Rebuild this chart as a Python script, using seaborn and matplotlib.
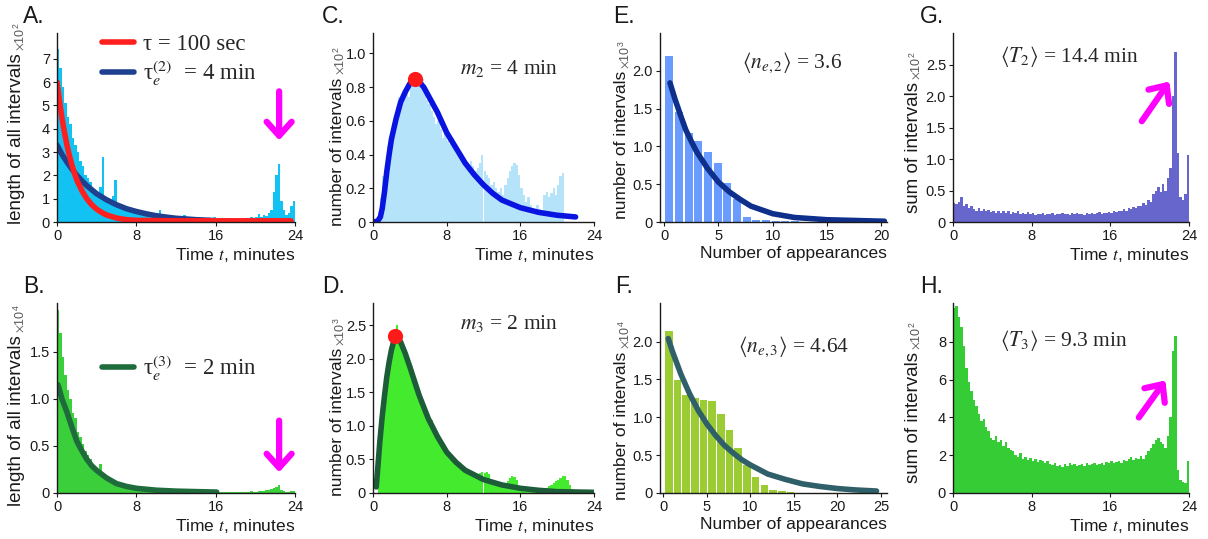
import numpy as np
import pandas as pd
import matplotlib.pyplot as plt
import seaborn as sns

# ---------------- data ----------------
# time histograms use 0.25-minute bins starting at t = 0
bin_w = 0.25

a_hist = [7.4, 6.6, 5.8, 5.1, 4.5, 4.2, 3.6, 3.3,
          3.0, 2.6, 2.4, 2.0, 1.9, 1.7, 1.4, 1.3,
          1.2, 1.5, 2.8, 1.0, 0.9, 0.8, 1.1, 1.8,
          0.7, 0.6, 0.75, 0.55, 0.5, 0.6, 0.45, 0.4,
          0.35, 0.4, 0.3, 0.35, 0.3, 0.25, 0.3, 0.25,
          0.25, 0.5, 0.2, 0.2, 0.25, 0.2, 0.15, 0.2,
          0.15, 0.2, 0.15, 0.3, 0.15, 0.1, 0.15, 0.1,
          0.2, 0.1, 0.1, 0.15, 0.1, 0.15, 0.1, 0.2,
          0.1, 0.1, 0.15, 0.1, 0.1, 0.15, 0.1, 0.1,
          0.1, 0.15, 0.1, 0.1, 0.15, 0.1, 0.2, 0.15,
          0.2, 0.35, 0.2, 0.3, 0.25, 0.4, 0.5, 1.3,
          2.0, 2.5, 0.9, 0.5, 0.3, 0.4, 0.7, 0.9]
a_red_t = [0, 0.25, 0.5, 0.75, 1.0, 1.25, 1.5, 1.75, 2.0, 2.5, 3.0, 3.5, 4.0,
           4.5, 5.0, 6.0, 7.0, 8.0, 10.0, 12.0, 16.0, 23.6]
a_red_y = [6.0, 5.2, 4.45, 3.85, 3.3, 2.85, 2.45, 2.1, 1.8, 1.35, 1.0, 0.74, 0.55,
           0.41, 0.3, 0.17, 0.1, 0.07, 0.06, 0.05, 0.05, 0.05]
a_blue_t = [0, 0.5, 1, 1.5, 2, 2.5, 3, 4, 5, 6, 7, 8, 9, 10, 11, 12, 13, 14, 15.6]
a_blue_y = [3.3, 2.9, 2.57, 2.27, 2.0, 1.77, 1.56, 1.21, 0.95, 0.74, 0.57, 0.45,
            0.35, 0.27, 0.21, 0.16, 0.13, 0.1, 0.07]

b_hist = [1.95, 1.7, 1.45, 1.25, 1.1, 1.0, 0.85, 0.8,
          0.65, 0.6, 0.52, 0.45, 0.4, 0.36, 0.3, 0.27,
          0.24, 0.31, 0.2, 0.17, 0.15, 0.13, 0.12, 0.1,
          0.09, 0.08, 0.07, 0.06, 0.05, 0.05, 0.04, 0.04,
          0.035, 0.03, 0.03, 0.03, 0.025, 0.025, 0.02, 0.025,
          0.02, 0.02, 0.025, 0.02, 0.02, 0.015, 0.02, 0.02,
          0.015, 0.02, 0.015, 0.015, 0.01, 0.015, 0.015, 0.01,
          0.015, 0.01, 0.015, 0.015, 0.01, 0.015, 0.01, 0.015,
          0.01, 0.015, 0.01, 0.01, 0.015, 0.01, 0.015, 0.01,
          0.015, 0.01, 0.015, 0.015, 0.01, 0.015, 0.02, 0.015,
          0.015, 0.02, 0.02, 0.025, 0.03, 0.03, 0.04, 0.05,
          0.06, 0.08, 0.03, 0.02, 0.015, 0.015, 0.02, 0.02]
b_fit_t = [0.1, 0.5, 1, 1.5, 2, 2.5, 3, 3.5, 4, 5, 6, 7, 8, 10, 12, 14, 16.1]
b_fit_y = [1.15, 1.0, 0.86, 0.7, 0.55, 0.45, 0.36, 0.29, 0.24, 0.16, 0.1, 0.07,
           0.05, 0.03, 0.02, 0.015, 0.01]

c_hist = [0, 0, 0.04, 0.14, 0.27, 0.3, 0.45, 0.5,
          0.56, 0.62, 0.68, 0.74, 0.72, 0.76, 0.8, 0.74,
          0.82, 0.86, 0.84, 0.88, 0.8, 0.85, 0.78, 0.72,
          0.7, 0.66, 0.62, 0.58, 0.6, 0.55, 0.5, 0.52,
          0.48, 0.46, 0.5, 0.44, 0.45, 0.42, 0.4, 0.38,
          0.36, 0.34, 0.36, 0.33, 0.3, 0.32, 0.35, 0.4,
          0.3, 0.28, 0.26, 0.22, 0.24, 0.2, 0.18, 0.2,
          0.16, 0.22, 0.26, 0.3, 0.33, 0.35, 0.34, 0.28,
          0.2, 0.16, 0.12, 0.15, 0.1, 0.08, 0.06, 0.1,
          0.08, 0.05, 0.16, 0.18, 0.15, 0.17, 0.2, 0.16,
          0.22, 0.27, 0.29, 0, 0, 0, 0, 0,
          0, 0, 0, 0, 0, 0, 0, 0]
c_fit_t = [0, 0.5, 0.8, 1.0, 1.25, 1.5, 1.75, 2.0, 2.5, 3.0, 3.5, 4.0, 4.5, 5.0,
           5.5, 6.0, 7.0, 8.0, 9.0, 10.0, 11.0, 12.0, 13.0, 14.0, 16.0, 18.0, 20.0, 22.0]
c_fit_y = [0, 0.005, 0.03, 0.08, 0.18, 0.3, 0.4, 0.49, 0.61, 0.71, 0.77, 0.82, 0.845,
           0.83, 0.8, 0.75, 0.65, 0.53, 0.44, 0.35, 0.28, 0.22, 0.17, 0.13, 0.085,
           0.057, 0.04, 0.03]
c_peak = (4.55, 0.845)

d_hist = [0, 0, 0.75, 1.15, 1.4, 1.55, 1.85, 2.05,
          2.2, 2.35, 2.5, 2.35, 2.25, 2.15, 2.05, 1.95,
          1.85, 1.75, 1.65, 1.55, 1.45, 1.38, 1.3, 1.2,
          1.12, 1.08, 1.0, 0.9, 0.86, 0.8, 0.74, 0.68,
          0.63, 0.6, 0.55, 0.5, 0.47, 0.44, 0.41, 0.38,
          0.36, 0.33, 0.31, 0.29, 0.27, 0.28, 0.3, 0.31,
          0.3, 0.31, 0.29, 0.2, 0.17, 0.15, 0.13, 0.12,
          0.11, 0.13, 0.18, 0.22, 0.25, 0.24, 0.2, 0.1,
          0.07, 0.06, 0.05, 0.05, 0.04, 0.04, 0.04, 0.04,
          0.05, 0.05, 0.06, 0.08, 0.1, 0.12, 0.15, 0.18,
          0.2, 0.23, 0.26, 0.25, 0.2, 0.12, 0.06, 0.03,
          0.02, 0.02, 0.02, 0.02, 0.02, 0.02, 0.02, 0.02]
d_fit_t = [0.35, 0.5, 0.75, 1.0, 1.25, 1.5, 1.75, 2.0, 2.4, 2.75, 3.0, 3.5, 4.0, 5.0,
           6.0, 7.0, 8.0, 9.0, 10.0, 12.0, 14.0, 16.0, 18.0, 20.0, 24.0]
d_fit_y = [0.09, 0.34, 0.78, 1.14, 1.45, 1.73, 1.95, 2.13, 2.34, 2.3, 2.25, 2.08, 1.88,
           1.46, 1.11, 0.84, 0.61, 0.46, 0.34, 0.2, 0.12, 0.07, 0.04, 0.02, 0.01]
d_peak = (2.4, 2.34)

# number-of-appearances histograms
e_counts = [2.19, 1.45, 1.18, 1.07, 0.93, 0.78, 0.52, 0.3, 0.07, 0.03, 0.02,
            0.012, 0.01, 0.008, 0.006, 0.005, 0.004, 0.003, 0.003, 0.002, 0.002, 0.002]
e_first, e_step = 0.5, 0.89
e_fit_n = [0.55, 1, 1.5, 2, 2.5, 3, 4, 5, 6, 7, 8, 10, 12, 15, 20.3]
e_fit_y = [1.84, 1.63, 1.42, 1.22, 1.07, 0.93, 0.71, 0.53, 0.4, 0.3, 0.21, 0.11,
           0.06, 0.03, 0.01]

f_counts = [2.14, 1.49, 1.29, 1.25, 1.23, 1.21, 1.05, 0.83, 0.6, 0.37, 0.21, 0.1,
            0.045, 0.02, 0.01, 0.005, 0.003, 0.002, 0.002, 0.001, 0.001, 0.001,
            0.001, 0.001, 0.001]
f_first, f_step = 0.6, 1.0
f_fit_n = [0.55, 1, 2, 3, 4, 5, 6, 7, 8, 9, 10, 12, 14, 16, 18, 20, 22, 24.5]
f_fit_y = [2.04, 1.88, 1.57, 1.31, 1.09, 0.91, 0.76, 0.63, 0.53, 0.44, 0.37, 0.25,
           0.18, 0.12, 0.086, 0.059, 0.041, 0.026]

g_hist = [0.3, 0.28, 0.32, 0.4, 0.25, 0.28, 0.22, 0.25,
          0.2, 0.18, 0.22, 0.17, 0.2, 0.18, 0.19, 0.16,
          0.17, 0.15, 0.18, 0.14, 0.17, 0.15, 0.18, 0.13,
          0.16, 0.14, 0.17, 0.12, 0.15, 0.13, 0.16, 0.12,
          0.14, 0.11, 0.13, 0.12, 0.14, 0.11, 0.13, 0.12,
          0.15, 0.11, 0.13, 0.12, 0.14, 0.12, 0.13, 0.11,
          0.14, 0.12, 0.15, 0.12, 0.13, 0.11, 0.14, 0.13,
          0.15, 0.13, 0.14, 0.16, 0.13, 0.15, 0.14, 0.16,
          0.15, 0.17, 0.16, 0.18, 0.17, 0.2, 0.18, 0.22,
          0.2, 0.24, 0.22, 0.26, 0.25, 0.3, 0.27, 0.35,
          0.32, 0.45, 0.5, 0.55, 0.48, 0.6, 0.5, 0.7,
          0.85, 2.0, 2.7, 1.1, 0.4, 0.35, 0.45, 1.07]

h_hist = [9.8, 9.9, 9.3, 8.8, 7.8, 6.6, 5.9, 5.4,
          4.9, 4.6, 4.2, 3.8, 3.9, 3.5, 3.3, 2.9,
          2.8, 3.0, 2.7, 2.8, 2.5, 2.7, 2.4, 2.3,
          2.2, 2.0, 1.9, 2.1, 1.8, 1.9, 1.75, 1.85,
          1.7, 1.8, 1.65, 1.75, 1.7, 1.6, 1.7, 1.55,
          1.5, 1.6, 1.45, 1.5, 1.4, 1.55, 1.45, 1.6,
          1.5, 1.55, 1.45, 1.5, 1.55, 1.45, 1.6, 1.5,
          1.55, 1.6, 1.5, 1.55, 1.6, 1.5, 1.65, 1.6,
          1.7, 1.6, 1.65, 1.7, 1.6, 1.75, 1.7, 1.8,
          1.9, 1.75, 1.85, 1.8, 1.95, 1.8, 2.0, 2.2,
          2.4, 2.6, 2.8, 2.9, 2.7, 2.6, 2.4, 3.0,
          4.0, 7.5, 8.3, 1.2, 0.7, 0.6, 0.55, 1.7]

# ---------------- style ----------------
sns.set_theme(style='ticks')
plt.rcParams['font.family'] = ['Liberation Sans', 'DejaVu Sans']
plt.rcParams['mathtext.fontset'] = 'stix'
SERIF = 'Liberation Serif'
MAGENTA = '#ff00ff'
XLAB_FS = 12.5
TICK_FS = 10.5
ANN_FS = 15.5

W, H = 1208, 539
fig = plt.figure(figsize=(W / 100, H / 100), dpi=100)


def add_panel(x0, x1, y0, y1):
    return fig.add_axes([x0 / W, 1 - y1 / H, (x1 - x0) / W, (y1 - y0) / H])


def time_hist(ax, vals, color, element='step'):
    edges = np.arange(len(vals) + 1) * bin_w
    df = pd.DataFrame({'t': edges[:-1] + bin_w / 2, 'w': vals})
    sns.histplot(data=df, x='t', weights='w', bins=list(edges), element=element,
                 fill=True, color=color, alpha=1, linewidth=0, ax=ax)


def count_hist(ax, vals, first, step, shrink, color):
    centers = first + step * np.arange(len(vals))
    edges = np.append(centers - step / 2, centers[-1] + step / 2)
    df = pd.DataFrame({'n': centers, 'w': vals})
    sns.histplot(data=df, x='n', weights='w', bins=list(edges), shrink=shrink,
                 color=color, alpha=1, linewidth=0, ax=ax)


def finish(ax, xlim, ylim, xticks, yticks, ylabs, xlabel, ylabel, power,
           lab_top, off_px, ylab_fs):
    ax.set_xlim(*xlim)
    ax.set_ylim(*ylim)
    ax.set_xticks(xticks, [str(v) for v in xticks])
    ax.set_yticks(yticks, ylabs)
    ax.tick_params(labelsize=TICK_FS, length=3, width=0.8, pad=2, colors='0.1')
    sns.despine(ax=ax)
    for s in ('left', 'bottom'):
        ax.spines[s].set_linewidth(1.0)
        ax.spines[s].set_color('0.1')
    ax.set_xlabel(xlabel, fontsize=XLAB_FS, loc='right', labelpad=2, color='0.1')
    pos = ax.get_position()
    w_px, h_px = pos.width * W, pos.height * H
    xc = -off_px / w_px
    lab = ax.set_ylabel(ylabel, fontsize=ylab_fs, color='0.1')
    ax.yaxis.set_label_coords(xc, lab_top)
    lab.set_rotation_mode('default')
    lab.set_va('top')
    lab.set_ha('center')
    # the multiplier sits just above the end of the axis label
    ax.text(xc + 2 / w_px, lab_top + 2 / h_px, r'$\times\mathregular{10^{%d}}$' % power,
            transform=ax.transAxes, rotation=90, ha='center', va='bottom',
            fontsize=9, color='0.35')


def arrow(ax, tail, head):
    ax.annotate('', xy=head, xytext=tail,
                arrowprops=dict(arrowstyle='->, head_length=0.5, head_width=0.45',
                                color=MAGENTA, lw=4.5, mutation_scale=20,
                                shrinkA=0, shrinkB=0))


def note(ax, x, y, s):
    ax.text(x, y, s, family=SERIF, fontsize=ANN_FS, va='center', ha='left')


TIME = 'Time $t$, minutes'
APP = 'Number of appearances'
t_ticks = [0, 8, 16, 24]
LEG = dict(frameon=False, prop={'family': SERIF, 'size': 16.5}, handlelength=1.4,
           handletextpad=0.4, labelspacing=0.15, borderpad=0, borderaxespad=0)

# ---- A ----
ax = add_panel(57, 295, 33, 222)
time_hist(ax, a_hist, '#12c2f2')
sns.lineplot(x=a_blue_t, y=a_blue_y, color='#1f3f8f', linewidth=4, ax=ax,
             label='τ$_e^{(2)}$  = 4 min')
sns.lineplot(x=a_red_t, y=a_red_y, color='#ff1f1f', linewidth=4, ax=ax,
             label='τ = 100 sec')
hs, ls = ax.get_legend_handles_labels()
ax.legend(hs[::-1], ls[::-1], loc='upper left', bbox_to_anchor=(0.19, 0.995), **LEG)
arrow(ax, (22.4, 5.6), (22.4, 3.5))
finish(ax, (0, 24), (0, 8.1), t_ticks, list(range(8)), [str(v) for v in range(8)],
       TIME, 'length of all intervals', 2, 0.895, 40, 13.5)

# ---- B ----
ax = add_panel(57, 295, 303, 493)
time_hist(ax, b_hist, '#3ccf3c')
sns.lineplot(x=b_fit_t, y=b_fit_y, color='#1e6b3c', linewidth=4, ax=ax,
             label='τ$_e^{(3)}$  = 2 min')
ax.legend(loc='center left', bbox_to_anchor=(0.19, 0.66), **LEG)
arrow(ax, (22.4, 0.77), (22.4, 0.22))
finish(ax, (0, 24), (0, 2.02), t_ticks, [0, 0.5, 1.0, 1.5], ['0', '0.5', '1.0', '1.5'],
       TIME, 'length of all intervals', 4, 0.83, 40, 13.5)

# ---- C ----
ax = add_panel(373, 594, 33, 222)
time_hist(ax, c_hist, '#b5e3fa', element='bars')
sns.lineplot(x=c_fit_t, y=c_fit_y, color='#0a14e0', linewidth=4, ax=ax)
sns.scatterplot(x=[c_peak[0]], y=[c_peak[1]], color='#ff1a1a', s=120, linewidth=0,
                zorder=5, ax=ax)
note(ax, 9.5, 0.91, '$m_2$ = 4 min')
finish(ax, (0, 24), (0, 1.12), t_ticks, [0, 0.2, 0.4, 0.6, 0.8, 1.0],
       ['0', '0.2', '0.4', '0.6', '0.8', '1.0'],
       TIME, 'number of intervals', 2, 0.765, 36, 12.5)

# ---- D ----
ax = add_panel(373, 594, 303, 493)
time_hist(ax, d_hist, '#44ea2e', element='bars')
sns.lineplot(x=d_fit_t, y=d_fit_y, color='#1d5c38', linewidth=4, ax=ax)
sns.scatterplot(x=[d_peak[0]], y=[d_peak[1]], color='#ff1a1a', s=120, linewidth=0,
                zorder=5, ax=ax)
note(ax, 9.5, 2.53, '$m_3$ = 2 min')
finish(ax, (0, 24), (0, 2.83), t_ticks, [0, 0.5, 1.0, 1.5, 2.0, 2.5],
       ['0', '0.5', '1.0', '1.5', '2.0', '2.5'],
       TIME, 'number of intervals', 3, 0.765, 36, 12.5)

# ---- E ----
ax = add_panel(660, 887, 33, 222)
count_hist(ax, e_counts, e_first, e_step, 0.82, '#6a9cff')
sns.lineplot(x=e_fit_n, y=e_fit_y, color='#0e2f8c', linewidth=4, ax=ax)
note(ax, 7.15, 2.11, r'$\langle n_{e,2}\rangle$ = 3.6')
finish(ax, (-0.37, 20.53), (0, 2.5), [0, 5, 10, 15, 20], [0, 0.5, 1.0, 1.5, 2.0],
       ['0', '0.5', '1.0', '1.5', '2.0'], APP, 'number of intervals', 3, 0.80, 38, 12.5)

# ---- F ----
ax = add_panel(660, 887, 303, 493)
count_hist(ax, f_counts, f_first, f_step, 0.88, '#9ccc34')
sns.lineplot(x=f_fit_n, y=f_fit_y, color='#2f5f68', linewidth=4, ax=ax)
note(ax, 8.6, 1.93, r'$\langle n_{e,3}\rangle$ = 4.64')
finish(ax, (-0.4, 25.7), (0, 2.51), [0, 5, 10, 15, 20, 25], [0, 0.5, 1.0, 1.5, 2.0],
       ['0', '0.5', '1.0', '1.5', '2.0'], APP, 'number of intervals', 4, 0.745, 38, 12.5)

# ---- G ----
ax = add_panel(953, 1189, 33, 222)
time_hist(ax, g_hist, '#6666cc')
note(ax, 4.8, 2.63, r'$\langle T_2\rangle$ = 14.4 min')
arrow(ax, (19.2, 1.6), (22.0, 2.23))
finish(ax, (0, 24), (0, 3.0), t_ticks, [0, 0.5, 1.0, 1.5, 2.0, 2.5],
       ['0', '0.5', '1.0', '1.5', '2.0', '2.5'],
       TIME, 'sum of intervals', 2, 0.74, 40, 13.5)

# ---- H ----
ax = add_panel(953, 1189, 303, 493)
time_hist(ax, h_hist, '#36cc36')
note(ax, 4.8, 8.1, r'$\langle T_3\rangle$ = 9.3 min')
arrow(ax, (18.9, 4.0), (21.6, 5.96))
finish(ax, (0, 24), (0, 10.06), t_ticks, [0, 2, 4, 6, 8], ['0', '2', '4', '6', '8'],
       TIME, 'sum of intervals', 2, 0.74, 40, 13.5)

# panel letters
for letter, (px, py) in {'A.': (23, 5), 'C.': (322, 5), 'E.': (613, 5), 'G.': (920, 5),
                         'B.': (23, 275), 'D.': (322, 275), 'F.': (615, 275),
                         'H.': (920, 275)}.items():
    fig.text(px / W, 1 - py / H, letter, fontsize=16.5, va='top', ha='left', color='0.1')

fig.savefig('out.png', dpi=100)
